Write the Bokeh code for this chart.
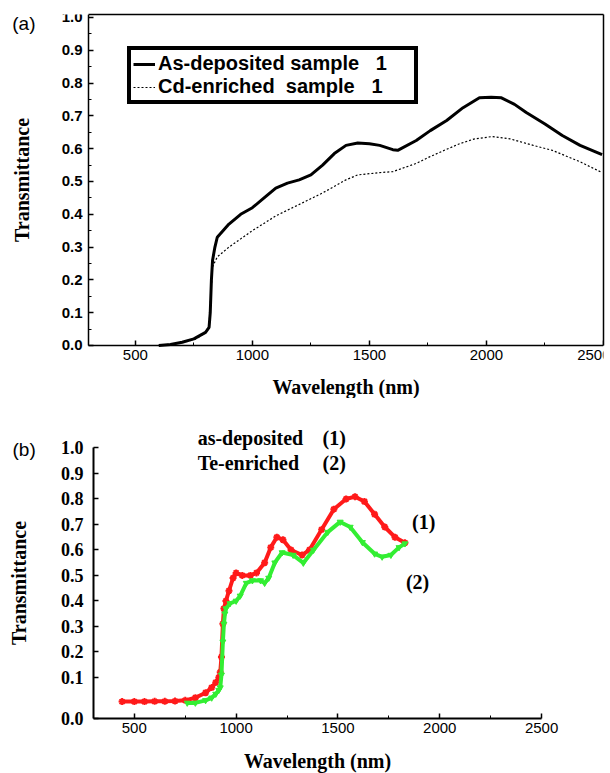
from bokeh.plotting import figure
from bokeh.layouts import column
from bokeh.models import (FixedTicker, CustomJSTickFormatter, Legend, LegendItem, Label,
                          LinearAxis)
from bokeh.embed import file_html
from bokeh.resources import INLINE

# ---------------- panel (a) data ----------------
wl_asdep = [600, 650, 700, 750, 800, 815, 820, 825, 830, 840, 850, 900, 950, 1000, 1050, 1100, 1150,
            1200, 1250, 1300, 1350, 1400, 1450, 1500, 1544, 1600, 1621, 1700, 1760, 1830, 1900,
            1970, 2020, 2064, 2120, 2170, 2250, 2324, 2400, 2494]
t_asdep = [0.0, 0.003, 0.01, 0.02, 0.04, 0.055, 0.10, 0.20, 0.26, 0.30, 0.33, 0.37, 0.40, 0.42, 0.45, 0.48, 0.495,
           0.505, 0.52, 0.55, 0.585, 0.61, 0.617, 0.615, 0.61, 0.597, 0.595, 0.625, 0.655, 0.686, 0.725,
           0.755, 0.757, 0.755, 0.735, 0.71, 0.675, 0.64, 0.61, 0.582]

wl_cd = [600, 700, 760, 800, 815, 822, 830, 850, 900, 950, 1000, 1100, 1200, 1300, 1400, 1450, 1544,
         1600, 1700, 1757, 1820, 1885, 1950, 2026, 2100, 2200, 2281, 2400, 2494]
t_cd = [0.0, 0.008, 0.02, 0.04, 0.06, 0.15, 0.24, 0.27, 0.30, 0.325, 0.35, 0.395, 0.43, 0.465, 0.505, 0.52, 0.527,
        0.53, 0.555, 0.575, 0.595, 0.615, 0.63, 0.637, 0.63, 0.61, 0.595, 0.56, 0.527]

# ---------------- panel (b) data ----------------
wl_red = [440, 500, 550, 600, 650, 700, 750, 800, 850, 880, 900, 915, 922, 928, 935, 940, 950, 965, 985,
          1000, 1030, 1070, 1100, 1140, 1170, 1200, 1230, 1270, 1324, 1360, 1420, 1480, 1540, 1584,
          1630, 1680, 1730, 1780, 1829]
t_red = [0.005, 0.005, 0.005, 0.006, 0.006, 0.007, 0.01, 0.02, 0.04, 0.06, 0.08, 0.10, 0.12, 0.18, 0.31, 0.37,
         0.40, 0.44, 0.49, 0.51, 0.50, 0.50, 0.51, 0.55, 0.61, 0.65, 0.64, 0.60, 0.58, 0.60, 0.68, 0.76, 0.80,
         0.809, 0.79, 0.74, 0.69, 0.65, 0.628]

wl_green = [760, 800, 850, 880, 900, 915, 922, 928, 935, 940, 945, 950, 970, 1000, 1020, 1050, 1080, 1120,
            1140, 1160, 1190, 1226, 1280, 1330, 1380, 1450, 1511, 1560, 1620, 1680, 1717, 1760, 1800, 1829]
t_green = [0.0, 0.0, 0.01, 0.02, 0.035, 0.05, 0.06, 0.11, 0.24, 0.31, 0.35, 0.37, 0.39, 0.40, 0.42, 0.47, 0.48,
           0.48, 0.47, 0.49, 0.55, 0.59, 0.58, 0.549, 0.60, 0.67, 0.71, 0.69, 0.63, 0.585, 0.573, 0.58, 0.61, 0.625]

y_ticks_a = [0.0, 0.1, 0.2, 0.3, 0.4, 0.5, 0.6, 0.7, 0.8, 0.9, 1.0]
y_ticks_b = [-0.061, 0.1, 0.2, 0.3, 0.4, 0.5, 0.6, 0.7, 0.8, 0.9, 1.0]
x_ticks = [500, 1000, 1500, 2000, 2500]

SANS = "Liberation Sans"
SERIF = "Liberation Serif"

fmt1 = CustomJSTickFormatter(code="return tick < 0 ? '0.0' : tick.toFixed(1);")


def style_axis(ax, width):
    ax.axis_line_width = width
    ax.axis_line_color = "black"
    ax.major_tick_in = 5
    ax.major_tick_out = 0
    ax.minor_tick_in = 3
    ax.minor_tick_out = 0
    ax.major_tick_line_width = 1.5
    ax.major_tick_line_color = "black"
    ax.minor_tick_line_color = "black"
    ax.major_label_text_color = "black"
    ax.axis_label_text_color = "black"
    ax.axis_label_text_font = SERIF
    ax.axis_label_text_font_style = "bold"
    ax.axis_label_text_font_size = "20px"


def plain_axis(bounds=None):
    ax = LinearAxis(ticker=FixedTicker(ticks=[]), major_label_text_font_size="0px",
                    major_tick_in=0, major_tick_out=0, minor_tick_in=0, minor_tick_out=0,
                    axis_line_width=1.5, axis_line_color="black")
    if bounds is not None:
        ax.bounds = bounds
    return ax


# ---------------- panel (a) ----------------
pA = figure(width=610, height=398, x_range=(-76, 2500), y_range=(-0.1616, 1.009),
            output_backend="svg", toolbar_location=None,
            min_border_left=0, min_border_right=7, min_border_top=14, min_border_bottom=0)
pA.grid.visible = False
pA.outline_line_color = None
pA.background_fill_color = "white"

r1 = pA.line(wl_asdep, t_asdep, line_color="black", line_width=3)
r2 = pA.line(wl_cd, t_cd, line_color="black", line_width=1.2, line_dash="2 2")

style_axis(pA.xaxis[0], 1.5)
style_axis(pA.yaxis[0], 1.5)

pA.yaxis.fixed_location = 300
pA.yaxis.bounds = (0, 1.009)
pA.yaxis.ticker = FixedTicker(ticks=y_ticks_a, minor_ticks=[0.05 + 0.1 * i for i in range(10)])
pA.yaxis.formatter = fmt1
pA.yaxis.major_label_text_font = SANS
pA.yaxis.major_label_text_font_style = "bold"
pA.yaxis.major_label_text_font_size = "15px"
pA.yaxis.major_label_standoff = 6
pA.yaxis.axis_label = "Transmittance"
pA.yaxis.axis_label_standoff = 26

pA.xaxis.fixed_location = 0
pA.xaxis.bounds = (300, 2500)
pA.xaxis.ticker = FixedTicker(ticks=x_ticks, minor_ticks=[750, 1250, 1750, 2250])
pA.xaxis.major_label_text_font = SANS
pA.xaxis.major_label_text_font_size = "15px"
pA.xaxis.major_label_standoff = 5
pA.xaxis.axis_label = "Wavelength (nm)"
pA.xaxis.axis_label_standoff = 12

# box lines (top and right) of panel (a)
pA.add_layout(plain_axis((300, 2500)), "above")
pA.add_layout(plain_axis((0, 1.009)), "right")

legend = Legend(items=[LegendItem(label="As-deposited sample\u00a0\u00a0\u00a01", renderers=[r1]),
                       LegendItem(label="Cd-enriched\u00a0 sample\u00a0\u00a0\u00a01", renderers=[r2])],
                location=(127, 294))
legend.border_line_color = "black"
legend.border_line_alpha = 1
legend.border_line_width = 4
legend.label_text_font = SANS
legend.label_text_font_style = "bold"
legend.label_text_font_size = "20px"
legend.label_text_color = "black"
legend.glyph_width = 22
legend.glyph_height = 22
legend.label_height = 22
legend.label_width = 254
legend.spacing = 0
legend.padding = 2
legend.margin = 0
legend.label_standoff = 3
legend.background_fill_alpha = 1
pA.add_layout(legend)

pA.add_layout(Label(x=24, y=0.982, text="(a)", text_font=SANS, text_font_size="19px",
                    text_align="center", text_baseline="middle", text_color="black"))

# ---------------- panel (b) ----------------
pB = figure(width=610, height=375, x_range=(-157, 2804), y_range=(-0.277, 1.1),
            output_backend="svg", toolbar_location=None,
            min_border_left=0, min_border_right=7, min_border_top=24, min_border_bottom=0)
pB.grid.visible = False
pB.outline_line_color = None

pB.line(wl_red, t_red, line_color="#ff1a1a", line_width=4)
pB.scatter(wl_red, t_red, marker="asterisk", size=7, line_color="#ff1a1a", line_width=2)
pB.line(wl_green, t_green, line_color="#33ee33", line_width=4)
pB.scatter(wl_green, t_green, marker="inverted_triangle", size=6, fill_color="#33ee33", line_color="#33ee33")

style_axis(pB.xaxis[0], 2)
style_axis(pB.yaxis[0], 2)

pB.yaxis.fixed_location = 300
pB.yaxis.bounds = (-0.061, 1.0)
pB.yaxis.ticker = FixedTicker(ticks=y_ticks_b, minor_ticks=[])
pB.yaxis.formatter = fmt1
pB.yaxis.major_label_text_font = SERIF
pB.yaxis.major_label_text_font_style = "bold"
pB.yaxis.major_label_text_font_size = "18px"
pB.yaxis.major_label_standoff = 10
pB.yaxis.axis_label = "Transmittance"
pB.yaxis.axis_label_standoff = 28

pB.xaxis.fixed_location = -0.061
pB.xaxis.bounds = (300, 2500)
pB.xaxis.ticker = FixedTicker(ticks=x_ticks, minor_ticks=[750, 1250, 1750, 2250])
pB.xaxis.major_label_text_font = SANS
pB.xaxis.major_label_text_font_size = "15px"
pB.xaxis.major_label_standoff = 5
pB.xaxis.axis_label = "Wavelength (nm)"
pB.xaxis.axis_label_standoff = 13

for x, y, t, al in [(811, 1.039, "as-deposited", "left"),
                    (811, 0.941, "Te-enriched", "left"),
                    (1424, 1.039, "(1)", "left"),
                    (1424, 0.941, "(2)", "left"),
                    (1921, 0.709, "(1)", "center"),
                    (1891, 0.473, "(2)", "center")]:
    pB.add_layout(Label(x=x, y=y, text=t, text_font=SERIF, text_font_style="bold",
                        text_font_size="20px", text_align=al, text_baseline="middle",
                        text_color="black"))
pB.add_layout(Label(x=-41, y=0.996, text="(b)", text_font=SANS, text_font_size="19px",
                    text_align="center", text_baseline="middle", text_color="black"))

lay = column(pA, pB, spacing=0)
open("out.html", "w").write(file_html(lay, INLINE))
